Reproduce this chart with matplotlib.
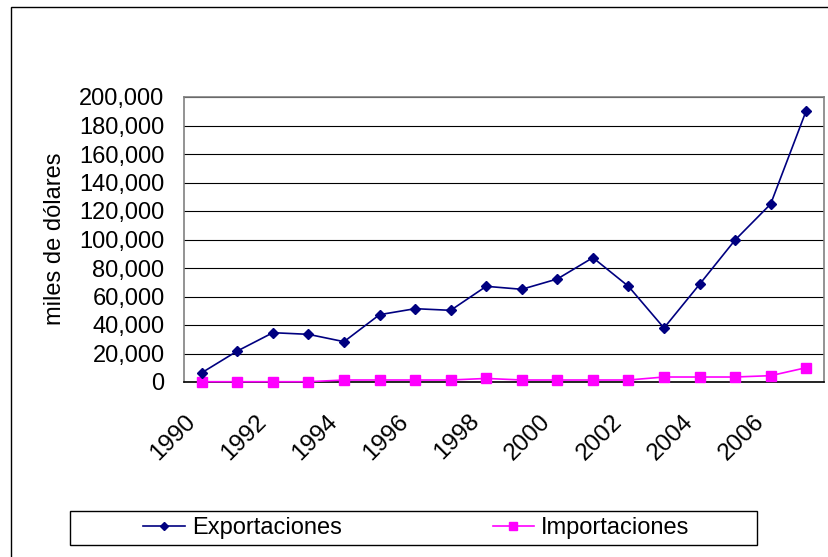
import matplotlib
matplotlib.use("Agg")
import matplotlib.pyplot as plt
from matplotlib.patches import Rectangle
from matplotlib.ticker import FuncFormatter
from matplotlib.transforms import ScaledTranslation
import numpy as np

plt.rcParams["font.family"] = ["Liberation Sans", "DejaVu Sans"]

years = list(range(1990, 2008))
exportaciones = [6500, 21750, 34600, 33450, 28300, 47250, 51450, 50300, 67150,
                 65050, 72300, 87250, 67150, 37900, 68550, 99650, 124900, 190400]
importaciones = [200, 200, 200, 200, 1400, 1400, 1400, 1400, 2500,
                 1400, 1400, 1400, 1400, 3500, 3500, 3500, 4450, 10050]
tick_years = list(range(1990, 2007, 2))

W, H = 829, 557
fig = plt.figure(figsize=(W / 100, H / 100), dpi=100)
ax = fig.add_axes([184 / W, 1 - 382 / H, 640 / W, 285 / H])

x = np.arange(len(years))
ax.plot(x, importaciones, color="#FF00FF", marker="s", markersize=6.5, lw=1.2,
        label="Importaciones", clip_on=False, zorder=3)
ax.plot(x, exportaciones, color="#000080", marker="D", markersize=5.5, lw=1.2,
        label="Exportaciones", clip_on=False, zorder=4)

ax.set_xlim(-0.5, len(years) - 0.5)
ax.set_ylim(0, 200000)
ax.set_yticks(np.arange(0, 200001, 20000))
ax.yaxis.set_major_formatter(FuncFormatter(lambda v, p: f"{v:,.0f}"))
ax.set_xticks([years.index(y) for y in tick_years])
ax.set_xticklabels([str(y) for y in tick_years], rotation=45, ha="right",
                   va="center", rotation_mode="anchor")
ax.tick_params(axis="y", length=0, pad=14, labelsize=17)
ax.tick_params(axis="x", length=0, pad=26, labelsize=17.5)
# nudge rotated year labels a little to the left, like the original
shift = ScaledTranslation(-10 / 100, 0, fig.dpi_scale_trans)
for lbl in ax.get_xticklabels():
    lbl.set_transform(lbl.get_transform() + shift)
ax.grid(axis="y", color="black", lw=0.8)
ax.set_axisbelow(True)
for s in ["top", "right", "left"]:
    ax.spines[s].set_color("#808080")
    ax.spines[s].set_linewidth(1.2)
ax.spines["bottom"].set_color("black")
ax.spines["bottom"].set_linewidth(1.2)

fig.text(55 / W, 1 - 238.5 / H, "miles de dólares", rotation=90,
         ha="center", va="center", fontsize=17)

# outer chart border
fig.patches.append(Rectangle((11 / W, -0.1), 1.2, 1 - 7 / H + 0.1,
                             transform=fig.transFigure, fill=False,
                             edgecolor="black", lw=1.0))

# legend box
fig.patches.append(Rectangle((70 / W, 1 - 545 / H), 687 / W, 34 / H,
                             transform=fig.transFigure, fill=False,
                             edgecolor="black", lw=1.0))
handles, labels = ax.get_legend_handles_labels()
fig.legend(handles[::-1], labels[::-1], ncol=2, frameon=False, fontsize=17,
           loc="center", bbox_to_anchor=(416.5 / W, 1 - 528 / H),
           handlelength=1.75, handletextpad=0.3, columnspacing=6.4,
           markerscale=0.8)

fig.savefig("out.png", dpi=100)
